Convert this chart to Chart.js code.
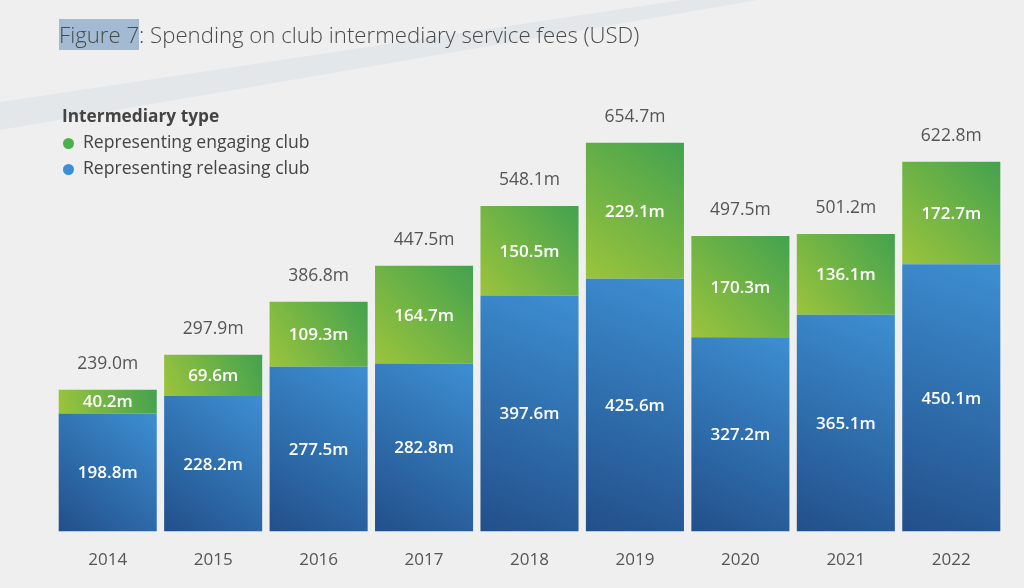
<!DOCTYPE html>
<html>
<head>
<meta charset="utf-8">
<script src="https://cdn.jsdelivr.net/npm/chart.js@4/dist/chart.umd.min.js"></script>
<style>
  html, body { margin: 0; padding: 0; background: #efefef; }
  #wrap { position: relative; width: 1024px; height: 588px; overflow: hidden; }
  #c { position: absolute; left: 0; top: 0; }
  #title { position: absolute; left: 59px; top: 21px; font-family: "Open Sans", sans-serif; font-weight: 300;
           font-size: 22.2px; color: #4a4a4a; white-space: nowrap; line-height: 28px; }
  #title .hl { background: #a2bbd2; }
  #legend { position: absolute; left: 62px; top: 103px; font-family: "Open Sans", sans-serif; color: #444; }
  #legend .lt { font-weight: 700; font-size: 17.3px; line-height: 25px; }
  #legend .it { font-size: 17.6px; line-height: 26px; white-space: nowrap; }
  #legend .dot { display: inline-block; width: 11px; height: 11px; border-radius: 50%; margin: 0 9px 0 1px; vertical-align: -1px; }
</style>
</head>
<body>
<div id="wrap">
  <canvas id="c" width="1024" height="588"></canvas>
  <div id="title"><span class="hl">Figure 7</span>: Spending on club intermediary service fees (USD)</div>
  <div id="legend">
    <div class="lt">Intermediary type</div>
    <div class="it"><span class="dot" style="background:#4caf50"></span>Representing engaging club</div>
    <div class="it"><span class="dot" style="background:#3a8fd6"></span>Representing releasing club</div>
  </div>
</div>
<script>
const years = ["2014", "2015", "2016", "2017", "2018", "2019", "2020", "2021", "2022"];
const releasing = [198.8, 228.2, 277.5, 282.8, 397.6, 425.6, 327.2, 365.1, 450.1];
const engaging = [40.2, 69.6, 109.3, 164.7, 150.5, 229.1, 170.3, 136.1, 172.7];
const totals = [239.0, 297.9, 386.8, 447.5, 548.1, 654.7, 497.5, 501.2, 622.8];

const BAR_PCT = 0.93;

function gradFor(ctx, dark, light) {
  const chart = ctx.chart;
  const xs = chart.scales.x, ys = chart.scales.y;
  if (!chart.chartArea || !xs || !ys) return dark;
  const i = ctx.dataIndex;
  const cx = xs.getPixelForValue(i);
  const w = xs.width / years.length * BAR_PCT;
  let lo, hi;
  if (ctx.datasetIndex === 0) { lo = 0; hi = releasing[i]; }
  else { lo = releasing[i]; hi = releasing[i] + engaging[i]; }
  const yb = ys.getPixelForValue(lo), yt = ys.getPixelForValue(hi);
  const g = chart.ctx.createLinearGradient(cx - w / 2, yb, cx + w / 2, yt);
  g.addColorStop(0, dark);
  g.addColorStop(1, light);
  return g;
}

const bgPlugin = {
  id: 'bg',
  beforeDraw(chart) {
    const c = chart.ctx;
    c.save();
    c.fillStyle = '#efefef';
    c.fillRect(0, 0, chart.width, chart.height);
    c.fillStyle = '#e3e7ea';
    c.beginPath();
    c.moveTo(0, 102);
    c.lineTo(682, 0);
    c.lineTo(758, 0);
    c.lineTo(0, 130);
    c.closePath();
    c.fill();
    c.restore();
  }
};

const labelPlugin = {
  id: 'labels',
  afterDatasetsDraw(chart) {
    const c = chart.ctx;
    c.save();
    c.textAlign = 'center';
    c.textBaseline = 'middle';
    const arrays = [releasing, engaging];
    c.font = '600 17px "Open Sans"';
    c.fillStyle = '#ffffff';
    arrays.forEach((arr, di) => {
      const meta = chart.getDatasetMeta(di);
      meta.data.forEach((el, i) => {
        const y = (el.y + el.base) / 2;
        c.fillText(arr[i].toFixed(1) + 'm', el.x, y + 1);
      });
    });
    c.font = '400 17.5px "Open Sans"';
    c.fillStyle = '#555555';
    const top = chart.getDatasetMeta(1);
    top.data.forEach((el, i) => {
      c.fillText(totals[i].toFixed(1) + 'm', el.x, el.y - 26);
    });
    c.restore();
  }
};

new Chart(document.getElementById('c'), {
  type: 'bar',
  data: {
    labels: years,
    datasets: [
      {
        label: 'Representing releasing club',
        data: releasing,
        backgroundColor: (ctx) => gradFor(ctx, '#224f8a', '#3d8fd2'),
        barPercentage: BAR_PCT,
        categoryPercentage: 1.0,
        borderWidth: 0
      },
      {
        label: 'Representing engaging club',
        data: engaging,
        backgroundColor: (ctx) => gradFor(ctx, '#9cc43c', '#43a24f'),
        barPercentage: BAR_PCT,
        categoryPercentage: 1.0,
        borderWidth: 0
      }
    ]
  },
  options: {
    responsive: false,
    animation: false,
    layout: { padding: { left: 55, right: 20, top: 98, bottom: 0 } },
    plugins: {
      legend: { display: false },
      tooltip: { enabled: false },
      title: { display: false }
    },
    scales: {
      x: {
        stacked: true,
        grid: { display: false, drawTicks: false },
        border: { display: false },
        ticks: { color: '#555555', font: { family: 'Open Sans', size: 17 }, padding: 18 }
      },
      y: {
        stacked: true,
        display: false,
        min: 0,
        max: 730
      }
    }
  },
  plugins: [bgPlugin, labelPlugin]
});
</script>
</body>
</html>
